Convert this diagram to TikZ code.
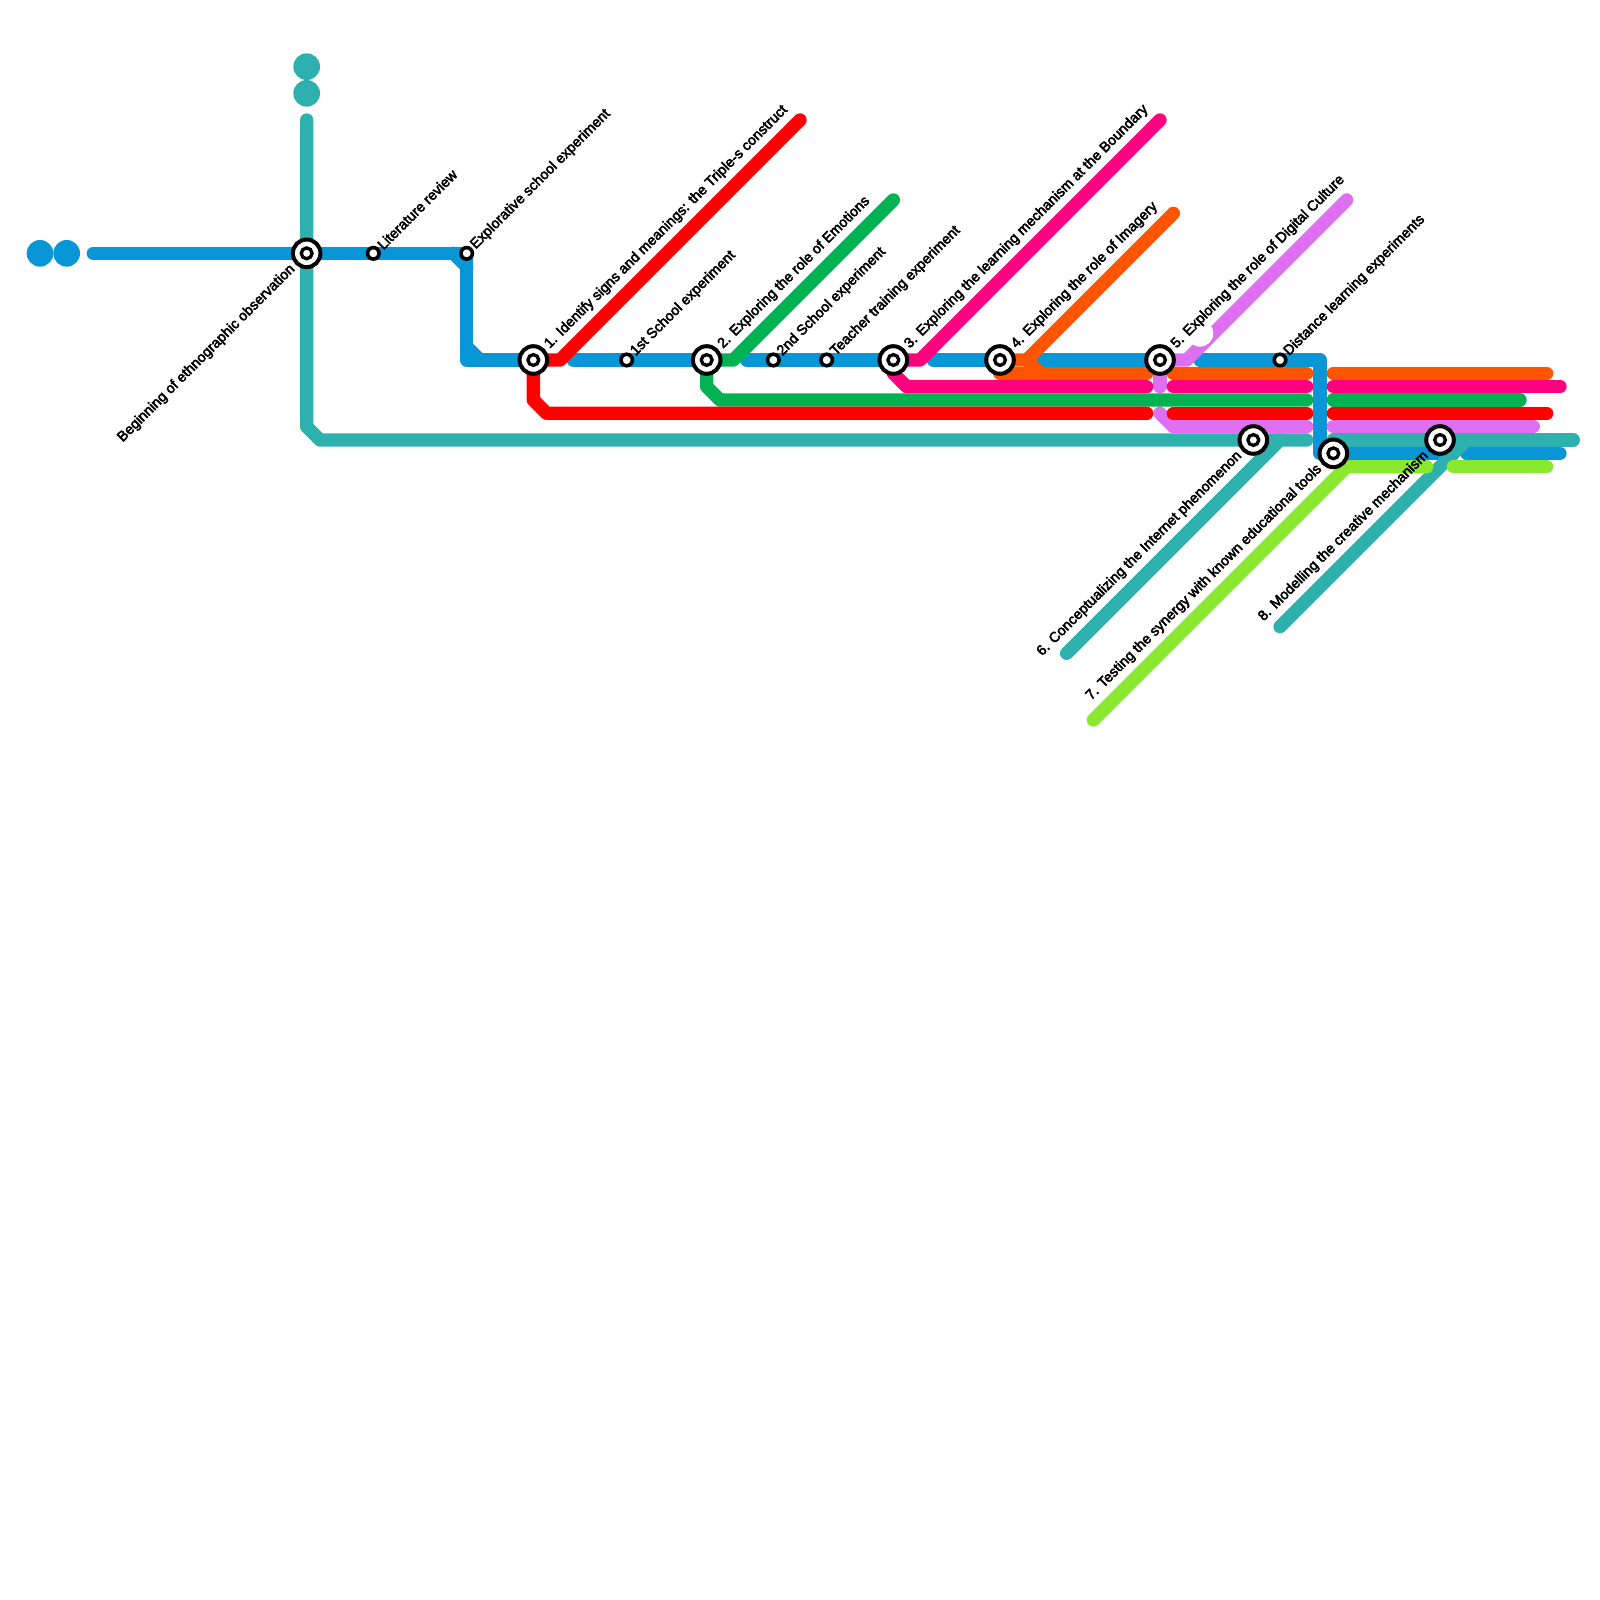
\documentclass[tikz,border=0pt]{standalone}
\usepackage{fontspec}
\setmainfont{Liberation Sans}
\newfontfamily\lblfont[FakeBold=3.2]{Liberation Sans}
\definecolor{cblue}{HTML}{0896D7}
\definecolor{cteal}{HTML}{2EB1AE}
\definecolor{cred}{HTML}{FF0000}
\definecolor{cgreen}{HTML}{00B251}
\definecolor{cmag}{HTML}{FF007F}
\definecolor{corange}{HTML}{FF5400}
\definecolor{cpurple}{HTML}{DE6FF0}
\definecolor{clime}{HTML}{8AE92E}
\tikzset{
  metro/.style={line width=1.3333mm,line cap=round,line join=round},
  bigst/.style={circle,draw=black,fill=white,line width=0.4mm,minimum size=2.76mm,inner sep=0pt,outer sep=0pt,
    path picture={\draw[black,line width=0.33mm] (path picture bounding box.center) circle (0.54mm);}},
  smallst/.style={circle,draw=black,fill=white,line width=0.36mm,minimum size=1.15mm,inner sep=0pt,outer sep=0pt},
  endball/.style={circle,inner sep=0pt,outer sep=0pt,minimum size=2.667mm},
  up/.style={font=\lblfont\fontsize{4.07}{5}\selectfont,rotate=45,anchor=west,inner sep=0pt,text=black},
  down/.style={font=\lblfont\fontsize{4.07}{5}\selectfont,rotate=45,anchor=east,inner sep=0pt,text=black}
}
\begin{document}
\begin{tikzpicture}[x=1.33333mm,y=-1.33333mm]
\useasboundingbox (0,0) rectangle (120,120);
% station positions
\coordinate (c0) at (23,19);
\coordinate (cl) at (28,19);
\coordinate (ce) at (35,19);
\coordinate (c1) at (40,27);
\coordinate (cs1) at (47,27);
\coordinate (c2) at (53,27);
\coordinate (cs2) at (58,27);
\coordinate (ct) at (62,27);
\coordinate (c3) at (67,27);
\coordinate (c4) at (75,27);
\coordinate (c5) at (87,27);
\coordinate (cd) at (96,27);
\coordinate (c6) at (94,33);
\coordinate (c7) at (100,34);
\coordinate (c8) at (108,33);
% terminals
\node[endball,fill=cblue] (b1) at (3,19) {};
\node[endball,fill=cblue] (b2) at (5,19) {};
\node[endball,fill=cteal] (t1) at (23,5) {};
\node[endball,fill=cteal] (t2) at (23,7) {};
% blue
\draw[metro,cblue] (7,19) -- (c0) -- (cl) -- (ce) -- (35,27) -- (c1);
\draw[metro,cblue] (34,19) -- (35,20);
\draw[metro,cblue] (35,26) -- (36,27);
\draw[metro,cblue] (43,27) -- (cs1) -- (c2);
\draw[metro,cblue] (56,27) -- (cs2) -- (ct) -- (c3);
\draw[metro,cblue] (70,27) -- (c4);
\draw[metro,cblue] (78,27) -- (c5);
\draw[metro,cblue] (90,27) -- (cd) -- (99,27) -- (99,34) -- (c7) -- (109,34);
\draw[metro,cblue] (110,34) -- (117,34);
% teal
\draw[metro,cteal] (23,9) -- (c0) -- (23,32) -- (24,33) -- (c6) -- (98,33);
\draw[metro,cteal] (80,49) -- (96,33);
\draw[metro,cteal] (100,33) -- (c8) -- (118,33);
\draw[metro,cteal] (96,47) -- (110,33);
% purple
\draw[metro,cpurple] (c5) -- (89,27) -- (101,15);
\draw[metro,cpurple] (c5) -- (87,29);
\draw[metro,cpurple] (87,31) -- (88,32) -- (98,32);
\draw[metro,cpurple] (100,32) -- (115,32);
\fill[white] (90,25) circle (1);
% orange
\draw[metro,corange] (c4) -- (77,27) -- (88,16);
\draw[metro,corange] (c4) -- (75,28) -- (86,28);
\draw[metro,corange] (77,27) -- (78,28);
\draw[metro,corange] (88,28) -- (98,28);
\draw[metro,corange] (100,28) -- (116,28);
% magenta
\draw[metro,cmag] (c3) -- (69,27) -- (87,9);
\draw[metro,cmag] (67,28) -- (68,29) -- (86,29);
\draw[metro,cmag] (88,29) -- (98,29);
\draw[metro,cmag] (100,29) -- (117,29);
% green
\draw[metro,cgreen] (c2) -- (55,27) -- (67,15);
\draw[metro,cgreen] (c2) -- (53,29) -- (54,30) -- (98,30);
\draw[metro,cgreen] (100,30) -- (114,30);
% red
\draw[metro,cred] (c1) -- (42,27) -- (60,9);
\draw[metro,cred] (c1) -- (40,30) -- (41,31) -- (86,31);
\draw[metro,cred] (88,31) -- (98,31);
\draw[metro,cred] (100,31) -- (116,31);
% lime
\draw[metro,clime] (82,54) -- (101,35) -- (107,35);
\draw[metro,clime] (109,35) -- (116,35);
% stations
\node[bigst] (st0) at (c0) {};
\node[smallst] (stl) at (cl) {};
\node[smallst] (ste) at (ce) {};
\node[bigst] (st1) at (c1) {};
\node[smallst] (sts1) at (cs1) {};
\node[bigst] (st2) at (c2) {};
\node[smallst] (sts2) at (cs2) {};
\node[smallst] (stt) at (ct) {};
\node[bigst] (st3) at (c3) {};
\node[bigst] (st4) at (c4) {};
\node[bigst] (st5) at (c5) {};
\node[smallst] (std) at (cd) {};
\node[bigst] (st6) at (c6) {};
\node[bigst] (st7) at (c7) {};
\node[bigst] (st8) at (c8) {};
% labels
\node[down] (l0) at ([shift={(-1,1)}]c0) {Beginning of ethnographic observation};
\node[up] (ll) at ([shift={(0.45,-0.45)}]cl) {Literature review};
\node[up] (le) at ([shift={(0.45,-0.45)}]ce) {Explorative school experiment};
\node[up] (l1) at ([shift={(1,-1)}]c1) {1. Identify signs and meanings: the Triple-s construct};
\node[up] (ls1) at ([shift={(0.45,-0.45)}]cs1) {1st School experiment};
\node[up] (l2) at ([shift={(1,-1)}]c2) {2. Exploring the role of Emotions};
\node[up] (ls2) at ([shift={(0.45,-0.45)}]cs2) {2nd School experiment};
\node[up] (lt) at ([shift={(0.45,-0.45)}]ct) {Teacher training experiment};
\node[up] (l3) at ([shift={(1,-1)}]c3) {3. Exploring the learning mechanism at the Boundary};
\node[up] (l4) at ([shift={(1,-1)}]c4) {4. Exploring the role of Imagery};
\node[up] (l5) at ([shift={(1,-1)}]c5) {5. Exploring the role of Digital Culture};
\node[up] (ld) at ([shift={(0.45,-0.45)}]cd) {Distance learning experiments};
\node[down] (l6) at ([shift={(-1,1)}]c6) {6. Conceptualizing the Internet phenomenon};
\node[down] (l7) at ([shift={(-1,1)}]c7) {7. Testing the synergy with known educational tools};
\node[down] (l8) at ([shift={(-1,1)}]c8) {8. Modelling the creative mechanism};
\end{tikzpicture}
\end{document}
